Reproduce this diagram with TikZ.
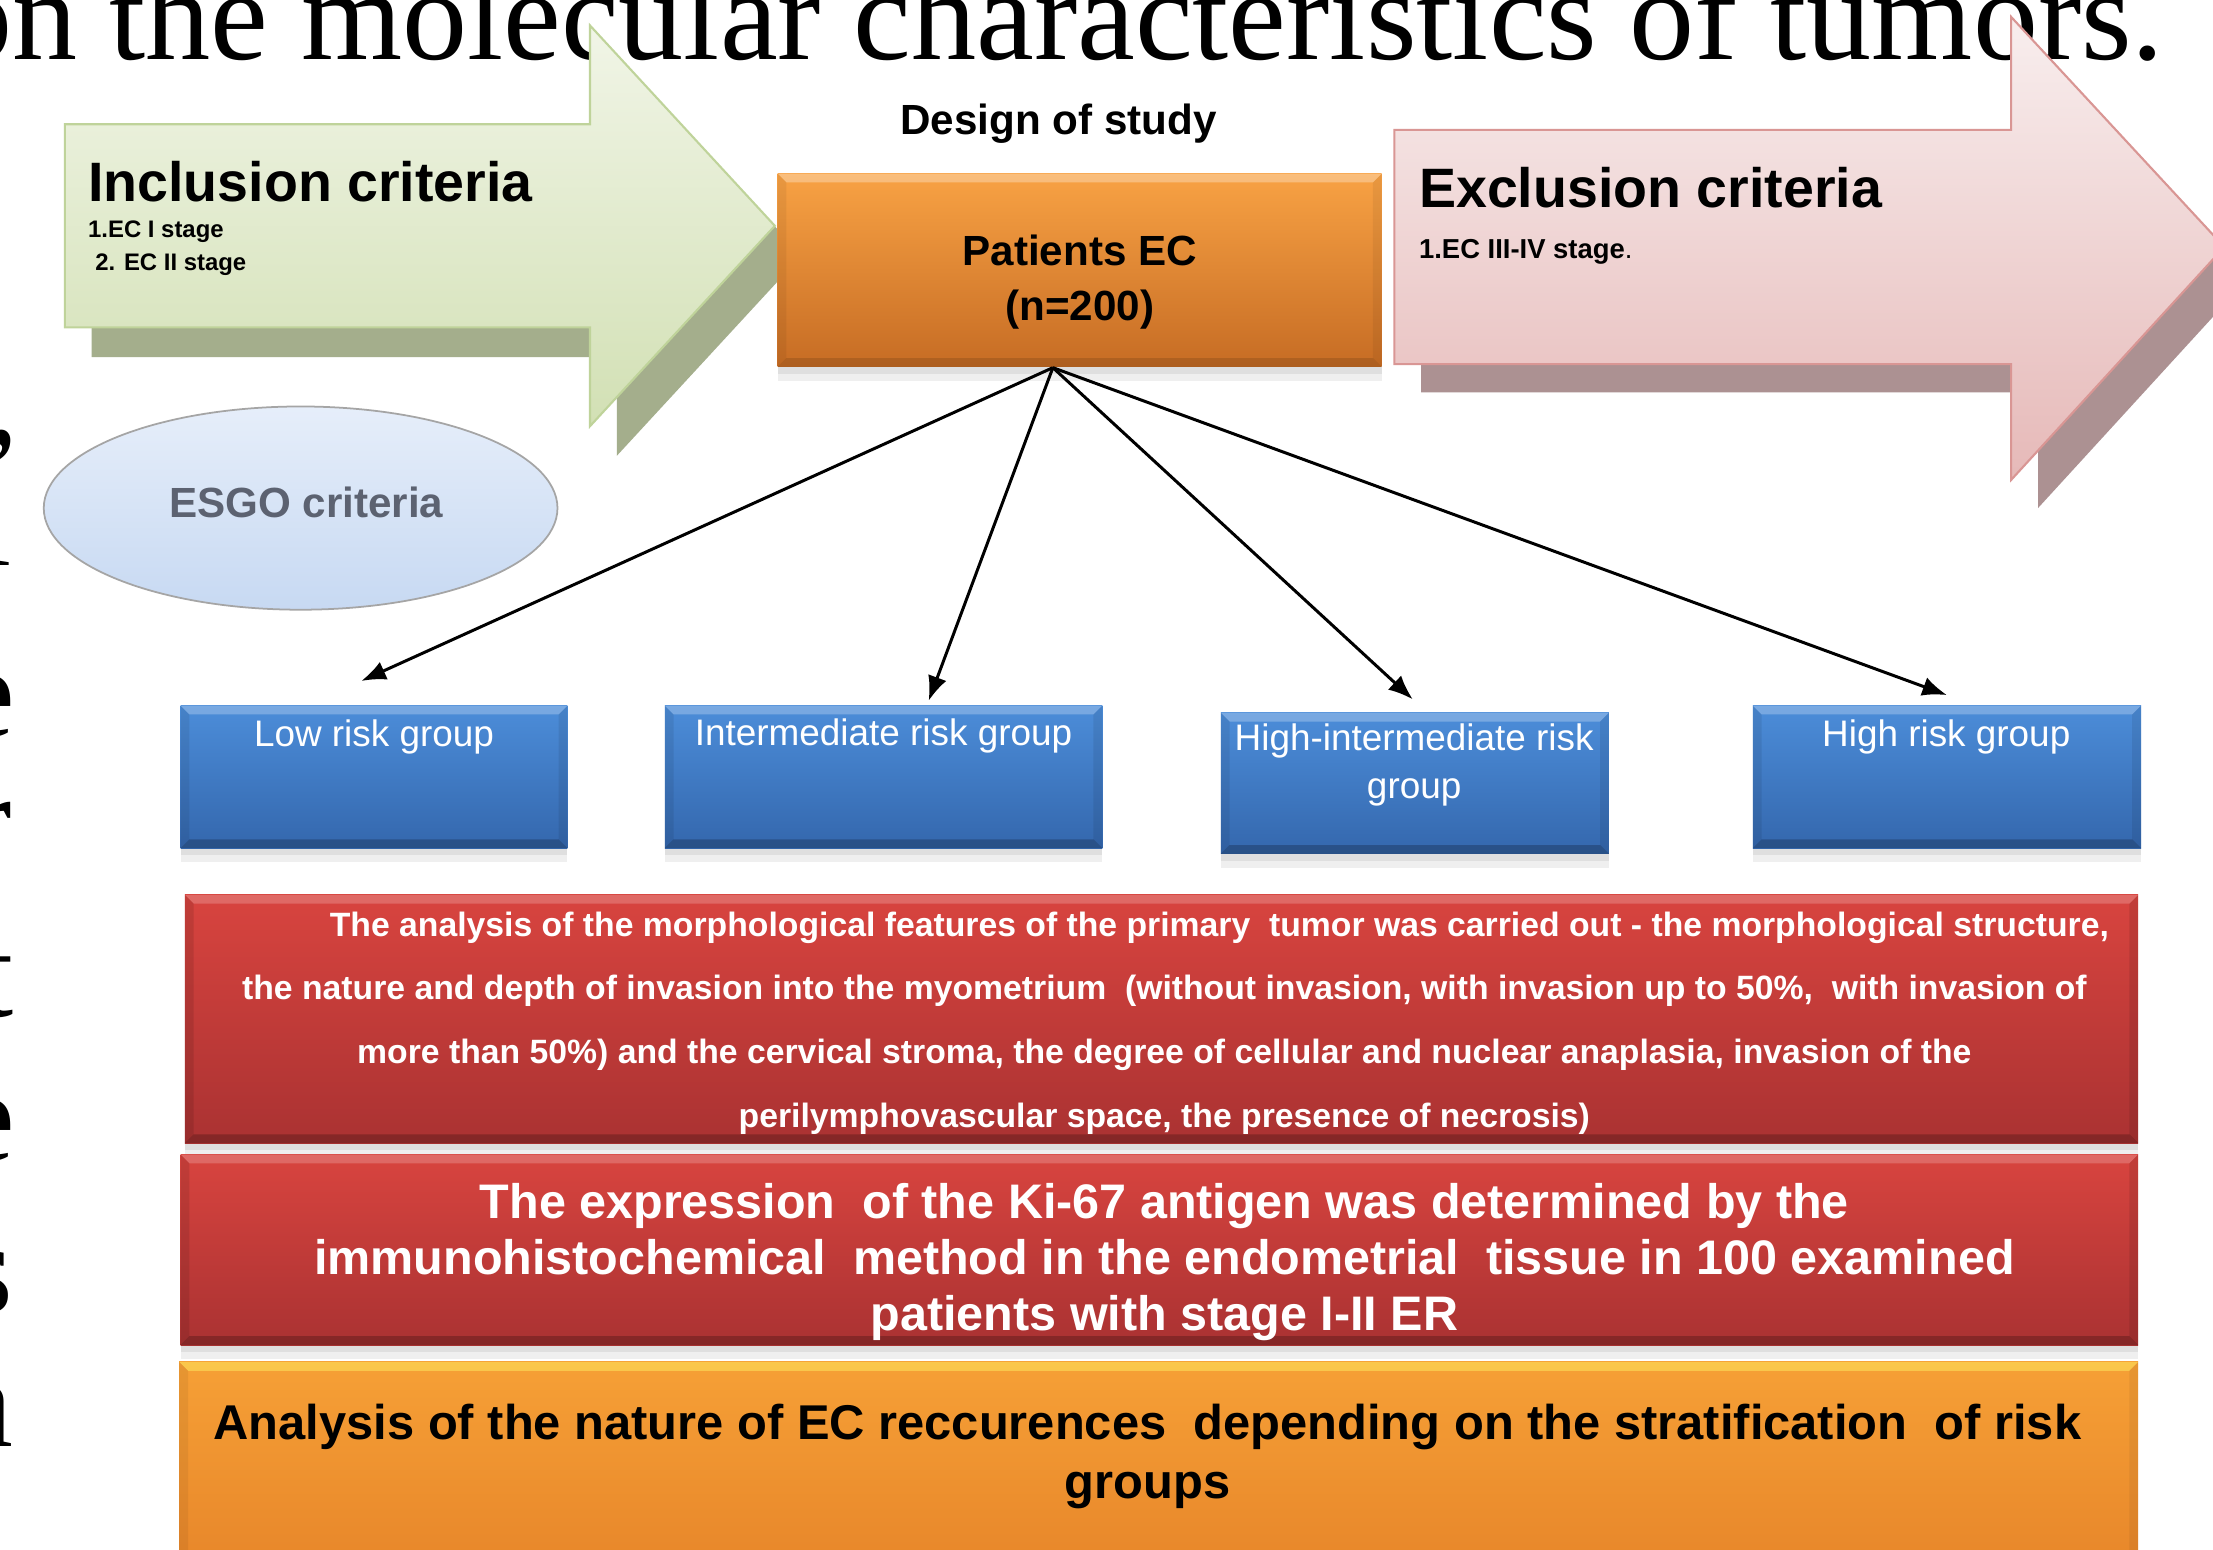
\documentclass[tikz,border=0pt]{standalone}
\usepackage{fontspec}
\setmainfont{Liberation Sans}
\newfontfamily\titleserif{Liberation Serif}
\usetikzlibrary{fit,shapes.geometric,arrows.meta,shadows}
\newdimen\U \U=0.014113cm
\newcommand{\fsz}[1]{\fontsize{#1}{#1}\selectfont}
\definecolor{grnTop}{HTML}{F1F5E7}
\definecolor{grnBot}{HTML}{D2E0B4}
\definecolor{grnLine}{HTML}{BFD39A}
\definecolor{grnShad}{HTML}{A4AE8C}
\definecolor{pnkTop}{HTML}{F8EEEE}
\definecolor{pnkBot}{HTML}{E6B9B8}
\definecolor{pnkLine}{HTML}{D99694}
\definecolor{pnkShad}{HTML}{AC9192}
\definecolor{ornTop}{HTML}{F8A244}
\definecolor{ornMid}{HTML}{F08A22}
\definecolor{ornBot}{HTML}{C66C24}
\definecolor{orn2Top}{HTML}{F6A036}
\definecolor{orn2Bot}{HTML}{E7862A}
\definecolor{bluTop}{HTML}{4C8DD9}
\definecolor{bluBot}{HTML}{3467AD}
\definecolor{redTop}{HTML}{D8443F}
\definecolor{redBot}{HTML}{AA3232}
\definecolor{esgoTop}{HTML}{E6EEFA}
\definecolor{esgoBot}{HTML}{C7D9F2}
\definecolor{esgoLine}{HTML}{A5A5A5}
\definecolor{esgoText}{HTML}{5C6271}
\tikzset{
  boxbase/.style={inner sep=0pt, draw=none,
    drop shadow={opacity=0.12, shadow xshift=0pt, shadow yshift=-4pt},
    drop shadow={opacity=0.14, shadow xshift=0pt, shadow yshift=-2pt}},
  bevel/.style n args={3}{path picture={
    \path (path picture bounding box.north west) coordinate (bvNW)
          (path picture bounding box.north east) coordinate (bvNE)
          (path picture bounding box.south west) coordinate (bvSW)
          (path picture bounding box.south east) coordinate (bvSE);
    \fill[#1] (bvNW) -- (bvNE) -- ([shift={(-2.5pt,-2.5pt)}]bvNE) -- ([shift={(2.5pt,-2.5pt)}]bvNW) -- cycle;
    \fill[#2] (bvSW) -- (bvSE) -- ([shift={(-2.5pt,2.5pt)}]bvSE) -- ([shift={(2.5pt,2.5pt)}]bvSW) -- cycle;
    \fill[#3] (bvNW) -- ([shift={(2.5pt,-2.5pt)}]bvNW) -- ([shift={(2.5pt,2.5pt)}]bvSW) -- (bvSW) -- cycle;
    \fill[#3] (bvNE) -- ([shift={(-2.5pt,-2.5pt)}]bvNE) -- ([shift={(-2.5pt,2.5pt)}]bvSE) -- (bvSE) -- cycle;
  }},
  bluebox/.style={boxbase, top color=bluTop, bottom color=bluBot,
    bevel={white,opacity=.25}{black,opacity=.22}{black,opacity=.08}},
  redbox/.style={boxbase, top color=redTop, bottom color=redBot,
    bevel={white,opacity=.2}{black,opacity=.22}{black,opacity=.1}},
  orangebox/.style={boxbase, top color=ornTop, middle color=ornMid, bottom color=ornBot,
    bevel={white,opacity=.3}{black,opacity=.12}{black,opacity=.06}},
  orangebox2/.style={boxbase, top color=orn2Top, bottom color=orn2Bot,
    bevel={yellow!60!white,opacity=.45}{black,opacity=.12}{black,opacity=.06}},
  bluetext/.style={anchor=base, inner sep=0pt, text=white, font=\fsz{10.5}},
  redtext/.style={anchor=base, inner sep=0pt, text=white, font=\bfseries\fsz{9.6}},
  bigwhite/.style={anchor=base, inner sep=0pt, text=white, font=\bfseries\fsz{13.8}},
  bigblack/.style={anchor=base, inner sep=0pt, text=black, font=\bfseries\fsz{13.9}},
  conn/.style={draw=black, line width=0.85pt, -{Latex[length=7pt,width=5.5pt]}},
  frag/.style={anchor=base east, inner sep=0pt, font=\titleserif\fsz{37}},
}
\begin{document}
\begin{tikzpicture}[x=0.014113cm, y=-0.014113cm]
\useasboundingbox (0,0) rectangle (1568,1098);
\clip (0,0) rectangle (1568,1098);
\fill[white] (0,0) rectangle (1568,1098);

% cut-off title of the slide behind
\node[anchor=base west, inner sep=0pt, font=\titleserif\fsz{37}] (title) at (-38,42)
  {on the molecular characteristics of tumors.};
% cut-off letters at the left edge
\node[frag] (f1) at (14,314) {,};
\node[frag] (f2) at (9,401) {i};
\node[frag] (f3) at (11,522) {e};
\node[frag] (f4) at (9,612) {r};
\node[frag] (f5) at (10,720) {t};
\node[frag] (f6) at (11,822) {e};
\node[frag] (f7) at (10,930) {s};
\node[frag] (f8) at (10,1025) {a};

% inclusion arrow (green)
\fill[grnShad] (65,109) -- (437,109) -- (437,39) -- (568,181) -- (437,323) -- (437,253) -- (65,253) -- cycle;
\shade[top color=grnTop, bottom color=grnBot, draw=grnLine, line width=0.6pt]
  (46,88) -- (418,88) -- (418,18) -- (549,160) -- (418,302) -- (418,232) -- (46,232) -- cycle;
\node[anchor=base west, inner sep=0pt, font=\bfseries\fsz{15.8}] (inc) at (62,143) {Inclusion criteria};
\node[anchor=base west, inner sep=0pt, font=\bfseries\fsz{6.8}] (inc1) at (62,168.5) {1.EC I stage};
\node[anchor=base west, inner sep=0pt, font=\bfseries\fsz{6.8}] (inc2) at (67,191.5) {2. EC II stage};

% exclusion arrow (pink)
\fill[pnkShad] (1007,112) -- (1444,112) -- (1444,32) -- (1595,195) -- (1444,360) -- (1444,278) -- (1007,278) -- cycle;
\shade[top color=pnkTop, bottom color=pnkBot, draw=pnkLine, line width=0.6pt]
  (988,92) -- (1425,92) -- (1425,12) -- (1576,175) -- (1425,340) -- (1425,258) -- (988,258) -- cycle;
\node[anchor=base west, inner sep=0pt, font=\bfseries\fsz{15.8}] (exc) at (1005,147) {Exclusion criteria};
\node[anchor=base west, inner sep=0pt, font=\bfseries\fsz{7.8}] (exc1) at (1005,183) {1.EC III-IV stage\mdseries.};

% ESGO ellipse
\node[ellipse, draw=esgoLine, line width=0.5pt, top color=esgoTop, bottom color=esgoBot,
  minimum width=364\U, minimum height=144\U, inner sep=0pt] (esgo) at (213,360) {};
\node[anchor=base, inner sep=0pt, text=esgoText, font=\bfseries\fsz{12}] (esgoT) at (217,367) {ESGO criteria};

% design of study
\node[anchor=base, inner sep=0pt, font=\bfseries\fsz{12}] (design) at (750,95) {Design of study};

% patients box
\node[orangebox, fit={(551,123) (979,260)}] (pat) {};
\node[anchor=base, inner sep=0pt, font=\bfseries\fsz{12}] (patA) at (765,188) {Patients EC};
\node[anchor=base, inner sep=0pt, font=\bfseries\fsz{12}] (patB) at (765,227) {(n=200)};

% risk group boxes
\node[bluebox, fit={(128,500) (402,601)}] (low) {};
\node[bluebox, fit={(471,500) (781,601)}] (inter) {};
\node[bluebox, fit={(865,505) (1140,605)}] (hint) {};
\node[bluebox, fit={(1242,500) (1517,601)}] (high) {};
\node[bluetext] (lowT) at (265,529) {Low risk group};
\node[bluetext] (interT) at (626,528) {Intermediate risk group};
\node[bluetext] (hintT1) at (1002,532) {High-intermediate risk};
\node[bluetext] (hintT2) at (1002,566) {group};
\node[bluetext] (highT) at (1379,529) {High risk group};

% connectors
\coordinate (src) at ([xshift=-19\U]pat.south);
\coordinate (lowIn) at ([xshift=-9\U, yshift=17\U]low.north);
\coordinate (interIn) at ([xshift=32\U, yshift=3\U]inter.north);
\coordinate (hintIn) at ([xshift=-1.5\U, yshift=9\U]hint.north);
\coordinate (highIn) at ([yshift=7\U]high.north);
\draw[conn] (src) -- (lowIn);
\draw[conn] (src) -- (interIn);
\draw[conn] (src) -- (hintIn);
\draw[conn] (src) -- (highIn);

% morphology box
\node[redbox, fit={(131,634) (1515,810)}] (morph) {};
\node[redtext] (m1) at (864,663.5) {The analysis of the morphological features of the primary\ \ tumor was carried out - the morphological structure,};
\node[redtext] (m2) at (825,708.5) {the nature and depth of invasion into the myometrium\ \ (without invasion, with invasion up to 50\%,\ \ with invasion of};
\node[redtext] (m3) at (825,753.5) {more than 50\%) and the cervical stroma, the degree of cellular and nuclear anaplasia, invasion of the};
\node[redtext] (m4) at (825,799) {perilymphovascular space, the presence of necrosis)};

% Ki-67 box
\node[redbox, fit={(128,818) (1515,953)}] (ki) {};
\node[bigwhite] (k1) at (825,863) {The expression\ \ of the Ki-67 antigen was determined by the};
\node[bigwhite] (k2) at (825,903) {immunohistochemical\ \ method in the endometrial\ \ tissue in 100 examined};
\node[bigwhite] (k3) at (825,943) {patients with stage I-II ER};

% recurrence box
\node[orangebox2, fit={(127,965) (1515,1112)}] (rec) {};
\node[bigblack] (r1) at (813,1020) {Analysis of the nature of EC reccurences\ \ depending on the stratification\ \ of risk};
\node[bigblack] (r2) at (813,1062) {groups};
\end{tikzpicture}
\end{document}
